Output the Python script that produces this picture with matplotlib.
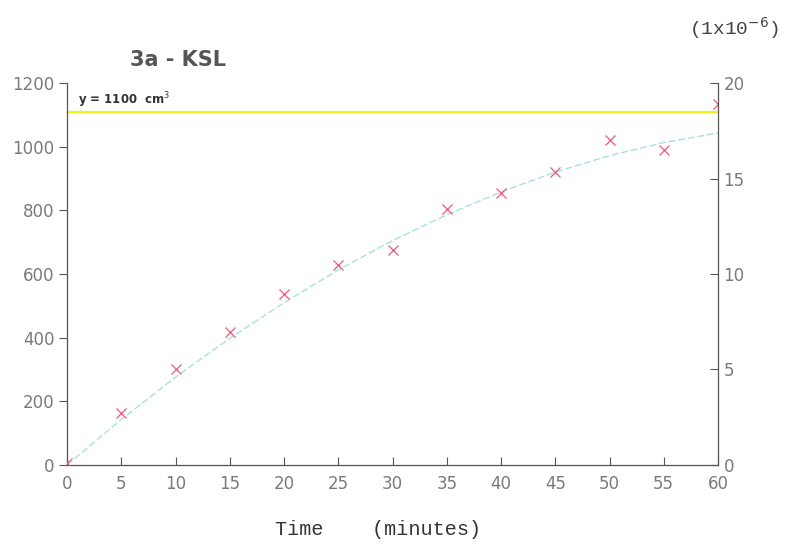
import numpy as np
import matplotlib.pyplot as plt

# measured volume (cm3) against time (minutes)
time_min = [0, 5, 10, 15, 20, 25, 30, 35, 40, 45, 50, 55, 60]
volume = [5, 163, 301, 418, 537, 628, 675, 804, 854, 920, 1021, 989, 1134]

# fitted curve
fit_time = [0, 5, 10, 15, 20, 25, 30, 35, 40, 45, 50, 55, 60]
fit_volume = [0, 143, 276, 398, 510, 613, 705, 786, 858, 920, 972, 1013, 1043]

limit_volume = 1110
x_ticks = [0, 5, 10, 15, 20, 25, 30, 35, 40, 45, 50, 55, 60]
left_ticks = [0, 200, 400, 600, 800, 1000, 1200]
right_ticks = [0, 5, 10, 15, 20]

grey = '#7a7a7a'
fig = plt.figure(figsize=(7.89, 5.48), dpi=100)
ax = fig.add_axes([0.085, 0.1515, 0.825, 0.697])

ax.axhline(limit_volume, color='#f2ef1c', lw=1.6, zorder=1)
ax.plot(fit_time, fit_volume, color='#a6e2de', lw=1.0, ls=(0, (5, 2)), zorder=2)
ax.plot(time_min, volume, 'x', color='#ee5a78', ms=7, mew=0.9, zorder=3)

ax.set_xlim(0, 60)
ax.set_ylim(0, 1200)
ax.set_xticks(x_ticks)
ax.set_yticks(left_ticks)
for s in ['top', 'right']:
    ax.spines[s].set_visible(False)
for s in ['left', 'bottom']:
    ax.spines[s].set_color('#555555')
    ax.spines[s].set_linewidth(0.9)
ax.tick_params(axis='x', direction='in', length=6, colors='#555555',
               labelcolor=grey, labelsize=12, pad=7)
ax.tick_params(axis='y', direction='out', length=6, colors='#555555',
               labelcolor=grey, labelsize=12, pad=3)

ax2 = ax.twinx()
ax2.set_ylim(0, 20)
ax2.set_yticks(right_ticks)
for s in ['top', 'left', 'bottom']:
    ax2.spines[s].set_visible(False)
ax2.spines['right'].set_color('#555555')
ax2.spines['right'].set_linewidth(0.9)
ax2.tick_params(axis='y', direction='in', length=6, colors='#555555',
                labelcolor=grey, labelsize=12, pad=4)

ax.text(1.0, 1116, 'y = 1100  cm$^3$', fontsize=8.5, fontweight='bold',
        color='#333333', va='bottom')

fig.text(0.226, 0.89, '3a - KSL', fontsize=15, fontweight='bold',
         color='#555555', ha='center', va='center')
fig.text(0.93, 0.948, '(1x10$^{-6}$)', fontsize=14, family='Liberation Mono',
         color='#444444', ha='center', va='center')
fig.text(0.479, 0.033, 'Time    (minutes)', fontsize=14.5, family='Liberation Mono',
         color='#333333', ha='center', va='center')

fig.savefig('out.png', dpi=100)
